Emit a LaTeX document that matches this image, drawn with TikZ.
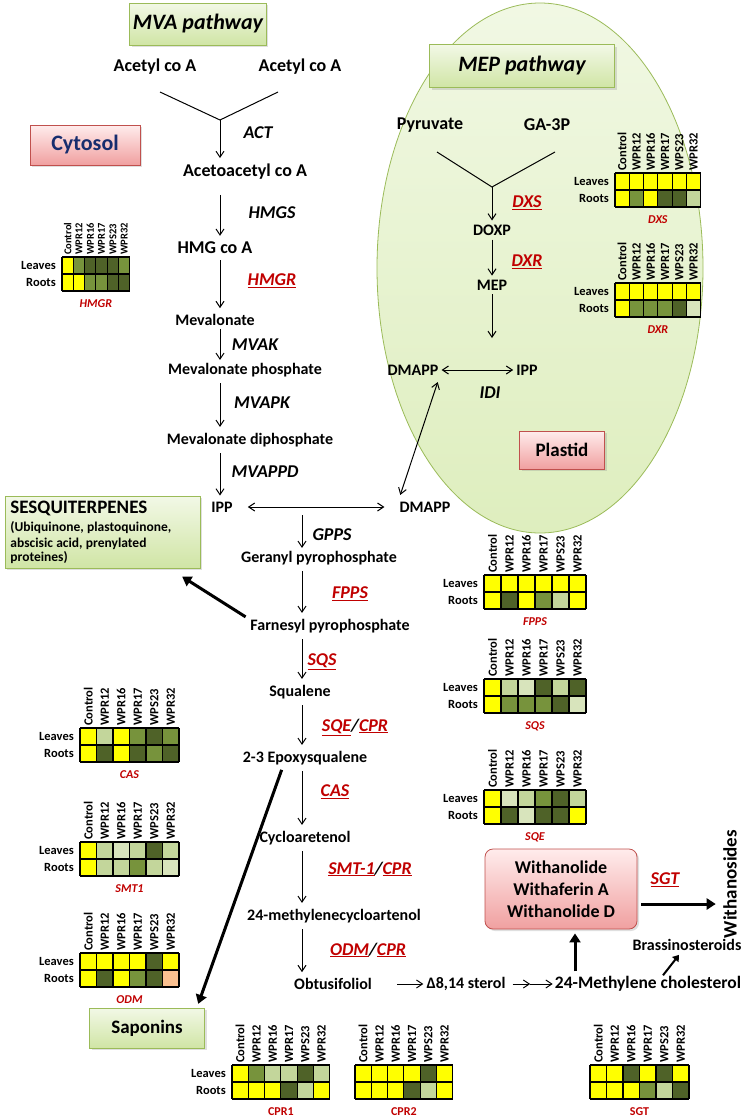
\documentclass[tikz,border=0pt]{standalone}
\usepackage{fontspec}
\setmainfont{Carlito}
\usetikzlibrary{arrows.meta,shadows,calc}

\definecolor{hY}{RGB}{255,255,0}
\definecolor{hD}{RGB}{79,98,40}
\definecolor{hM}{RGB}{119,147,60}
\definecolor{hL}{RGB}{195,214,155}
\definecolor{hV}{RGB}{216,228,188}
\definecolor{hO}{RGB}{250,192,144}
\definecolor{enzred}{RGB}{192,0,0}
\definecolor{boxgreen}{RGB}{155,187,89}
\definecolor{gtop}{RGB}{242,248,230}
\definecolor{gbot}{RGB}{208,229,165}
\definecolor{rtop}{RGB}{255,236,236}
\definecolor{rbot}{RGB}{240,160,160}
\definecolor{boxred}{RGB}{192,80,77}
\definecolor{ellA}{RGB}{241,248,228}
\definecolor{ellB}{RGB}{222,238,190}
\definecolor{cytblue}{RGB}{23,45,110}

% heat map: top-left, cell width, leaves, roots, label, name, row labels (1/0)
\newcommand\hmap[7]{%
  \begin{scope}[shift={(#1)}]
    \foreach \c [count=\i from 0] in {#3} \fill[\c] (\i*#2,0) rectangle ++(#2,17);
    \foreach \c [count=\i from 0] in {#4} \fill[\c] (\i*#2,17) rectangle ++(#2,17);
    \foreach \i in {0,...,6} \draw[hmline] (\i*#2,0) -- (\i*#2,34);
    \foreach \j in {0,17,34} \draw[hmline] (0,\j) -- (6*#2,\j);
    \foreach \t [count=\i from 0] in {Control,WPR12,WPR16,WPR17,WPS23,WPR32}
      \node[hdr] at ({(\i+0.5)*#2},-2) {\t};
    \node[hmlbl] (#6) at ({3*#2},47) {#5};
    \ifnum#7=1
      \node[rowlbl] at (-6,8.5) {Leaves};
      \node[rowlbl] at (-6,25.5) {Roots};
    \fi
  \end{scope}}

\begin{document}
\begin{tikzpicture}[x=1pt,y=-1pt,
  met/.style={font=\fontsize{16}{18}\selectfont\bfseries, inner sep=1pt},
  bigmet/.style={font=\fontsize{18}{20}\selectfont\bfseries, inner sep=1pt},
  enz/.style={font=\fontsize{18}{20}\selectfont\bfseries\itshape, inner sep=1pt},
  enzr/.style={enz, text=enzred},
  hdr/.style={font=\fontsize{12.5}{14}\selectfont\bfseries, rotate=90, anchor=west, inner sep=0pt},
  rowlbl/.style={font=\fontsize{12.5}{14}\selectfont\bfseries, anchor=east, inner sep=0pt},
  hmlbl/.style={font=\fontsize{12}{14}\selectfont\bfseries\itshape, text=enzred},
  hmline/.style={line width=1.1pt},
  greenbox/.style={draw=boxgreen, line width=0.8pt, top color=gtop, bottom color=gbot,
    drop shadow={opacity=0.25, shadow xshift=2pt, shadow yshift=-2pt}},
  redbox/.style={draw=boxred, line width=0.8pt, top color=rtop, bottom color=rbot,
    drop shadow={opacity=0.25, shadow xshift=2pt, shadow yshift=-2pt}},
  arr/.style={-{Straight Barb[length=6pt,width=8pt]}, line width=1pt, shorten <=5pt, shorten >=5pt},
  darr/.style={{Straight Barb[length=6pt,width=8pt]}-{Straight Barb[length=6pt,width=8pt]}, line width=1pt, shorten <=4pt, shorten >=4pt},
  thickarr/.style={-{Triangle[length=9pt,width=11pt]}, line width=3pt, shorten <=4pt, shorten >=4pt}]
\useasboundingbox (0,0) rectangle (750,1120);

% plastid
\path[draw=boxgreen, line width=0.8pt, top color=ellA, bottom color=ellB] (540,268) ellipse [x radius=163pt, y radius=265pt];

% titles and compartments
\node[greenbox, minimum width=135pt, minimum height=42pt, font=\fontsize{22}{24}\selectfont\bfseries\itshape] (mva) at (198,24) {MVA pathway};
\node[greenbox, minimum width=185pt, minimum height=43pt, font=\fontsize{22}{24}\selectfont\bfseries\itshape] (mep) at (522,66) {MEP pathway};
\node[redbox, minimum width=110pt, minimum height=40pt, text=cytblue, font=\fontsize{22}{24}\selectfont\bfseries] (cyt) at (85,145) {Cytosol};
\node[redbox, minimum width=85pt, minimum height=38pt, font=\fontsize{19}{21}\selectfont\bfseries] (pla) at (562,450) {Plastid};

% MVA pathway
\node[bigmet] (aca1) at (155,67) {Acetyl co A};
\node[bigmet] (aca2) at (300,67) {Acetyl co A};
\coordinate (yl) at (160,92);
\coordinate (yr) at (278,92);
\coordinate (yj) at (220,120);
\draw[line width=1pt] (yl) -- (yj) -- (yr);
\node[enz] (act) at (258,133) {ACT};
\node[bigmet] (acac) at (245,172) {Acetoacetyl co A};
\draw[arr, shorten <=0pt] (yj) -- (acac.north -| yj);
\node[enz] (hmgs) at (272,213) {HMGS};
\node[bigmet] (hmg) at (215,248) {HMG co A};
\draw[arr, shorten <=14pt] (acac.south -| yj) -- (hmg.north -| yj);
\node[enzr] (hmgr) at (272,281) {\underline{HMGR}};
\node[met] (mev) at (215,320) {Mevalonate};
\draw[arr] (hmg.south -| yj) -- (mev.north -| yj);
\node[enz] (mvak) at (255,345) {MVAK};
\node[met] (mevp) at (245,370) {Mevalonate phosphate};
\draw[arr, shorten <=2pt, shorten >=2pt] (mev.south -| yj) -- (mevp.north -| yj);
\node[enz] (mvapk) at (262,403) {MVAPK};
\node[met] (mevpp) at (250,440) {Mevalonate diphosphate};
\draw[arr] (mevp.south -| yj) -- (mevpp.north -| yj);
\node[enz] (mvappd) at (265,472) {MVAPPD};
\node[met] (ipp) at (222,507) {IPP};
\node[met] (dmapp) at (425,507) {DMAPP};
\draw[arr] (mevpp.south -| yj) -- (ipp.north -| yj);
\draw[darr, shorten <=14pt, shorten >=14pt] (ipp.east) -- (dmapp.west);

% MEP pathway
\node[bigmet] (pyr) at (430,125) {Pyruvate};
\node[bigmet] (ga3p) at (547,125) {GA-3P};
\coordinate (ml) at (437,152);
\coordinate (mr) at (555,152);
\coordinate (mj) at (492,187);
\draw[line width=1pt] (ml) -- (mj) -- (mr);
\node[enzr] (dxs) at (527,203) {\underline{DXS}};
\node[met] (doxp) at (492,230) {DOXP};
\draw[arr, shorten <=0pt, shorten >=3pt] (mj) -- (doxp.north);
\node[enzr] (dxr) at (527,262) {\underline{DXR}};
\node[met] (mepm) at (492,285) {MEP};
\draw[arr, shorten <=3pt, shorten >=3pt] (doxp.south) -- (mepm.north);
\coordinate (mepe) at (492,338);
\draw[arr, shorten <=3pt, shorten >=0pt] (mepm.south) -- (mepe);
\node[met] (dmapp2) at (413,370) {DMAPP};
\node[met] (ipp2) at (527,370) {IPP};
\draw[darr, shorten <=2pt, shorten >=2pt] (dmapp2.east) -- (ipp2.west);
\node[enz] (idi) at (490,393) {IDI};
\draw[darr, shorten <=6pt, shorten >=6pt] (dmapp.north west) -- (dmapp2.south east);

% trunk
\coordinate (br) at (302,507);
\node[enz] (gpps) at (332,535) {GPPS};
\node[met] (gpp) at (319,558) {Geranyl pyrophosphate};
\draw[arr, shorten <=8pt, shorten >=2pt] (br) -- (gpp.north -| br);
\node[enzr] (fpps) at (350,594) {\underline{FPPS}};
\node[met] (fpp) at (330,626) {Farnesyl pyrophosphate};
\draw[arr] (gpp.south -| br) -- (fpp.north -| br);
\node[enzr] (sqs) at (322,662) {\underline{SQS}};
\node[met] (squal) at (300,692) {Squalene};
\draw[arr] (fpp.south -| br) -- (squal.north -| br);
\node[enz] (sqe) at (355,727) {\textcolor{enzred}{\underline{SQE}}/\textcolor{enzred}{\underline{CPR}}};
\node[met] (epox) at (305,758) {2-3 Epoxysqualene};
\draw[arr] (squal.south -| br) -- (epox.north -| br);
\node[enzr] (cas) at (335,792) {\underline{CAS}};
\node[met] (cyclo) at (305,838) {Cycloaretenol};
\draw[arr] (epox.south -| br) -- (cyclo.north -| br);
\node[enz] (smt) at (370,869) {\textcolor{enzred}{\underline{SMT-1}}/\textcolor{enzred}{\underline{CPR}}};
\node[met] (mcyc) at (334,916) {24-methylenecycloartenol};
\draw[arr] (cyclo.south -| br) -- (mcyc.north -| br);
\node[enz] (odm) at (368,950) {\textcolor{enzred}{\underline{ODM}}/\textcolor{enzred}{\underline{CPR}}};
\node[met] (obt) at (333,984) {Obtusifoliol};
\draw[arr] (mcyc.south -| br) -- (obt.north -| br);
\node[met] (d814) at (466,984) {Δ8,14 sterol};
\node[met, font=\fontsize{17.5}{20}\selectfont\bfseries] (mchol) at (648,984) {24-Methylene cholesterol};
\draw[arr, shorten <=24pt, shorten >=2pt] (obt.east) -- (d814.west);
\coordinate (dmid) at ($(d814.east)!0.5!(mchol.west)$);
\draw[arr, shorten <=6pt, shorten >=0pt] (d814.east) -- (dmid);
\draw[arr, shorten <=0pt, shorten >=1pt] (dmid) -- (mchol.west);

% side products
\node[greenbox, text width=185pt, align=left, anchor=north west, inner sep=5pt] (sesq) at (5,496)
  {\fontsize{19}{21}\selectfont\bfseries SESQUITERPENES\\[2pt]
   \fontsize{13.5}{16}\selectfont\bfseries (Ubiquinone, plastoquinone,\\abscisic acid, prenylated\\proteines)};
\draw[thickarr, shorten <=2pt] ([xshift=-2pt]fpp.north west) -- ([xshift=-22pt, yshift=-6pt]sesq.south east);
\node[greenbox, minimum width=115pt, minimum height=40pt, font=\fontsize{19}{21}\selectfont\bfseries] (sap) at (147,1028) {Saponins};
\draw[thickarr] ([xshift=-22pt]epox.south) -- ([xshift=-8pt]sap.north east);
\node[redbox, rounded corners=8pt, minimum width=152pt, minimum height=80pt, align=center,
  font=\fontsize{18}{22}\selectfont\bfseries] (with) at (561,889) {Withanolide\\Withaferin A\\Withanolide D};
\draw[thickarr] ([xshift=14pt]with.south |- mchol.north) -- ([xshift=14pt]with.south);
\node[met] (brass) at (687,945) {Brassinosteroids};
\draw[-{Triangle[length=6pt,width=8pt]}, line width=2pt] ([xshift=15pt]mchol.north) -- ([xshift=-8pt, yshift=-3pt]brass.south);
\node[enzr] (sgt) at (665,880) {\underline{SGT}};
\node[rotate=90, font=\fontsize{19}{21}\selectfont\bfseries] (withs) at (730,884) {Withanosides};
\draw[thickarr] ([yshift=-15pt]with.east) -- ([yshift=-15pt]with.east -| withs.north);

% expression heat maps
\hmap{615,173}{14.3}{hY,hY,hY,hY,hY,hY}{hY,hM,hY,hD,hD,hL}{DXS}{hmdxs}{1}
\hmap{615,283}{14.3}{hY,hY,hY,hY,hY,hY}{hY,hM,hM,hM,hD,hV}{DXR}{hmdxr}{1}
\begin{scope}[hdr/.append style={font=\fontsize{10.5}{12}\selectfont\bfseries}]
\hmap{62,257}{11.3}{hY,hM,hD,hD,hD,hM}{hY,hY,hM,hM,hD,hD}{HMGR}{hmhmgr}{1}
\end{scope}
\hmap{484,575}{17}{hY,hY,hY,hY,hY,hY}{hY,hD,hY,hM,hL,hY}{FPPS}{hmfpps}{1}
\hmap{484,679}{17}{hY,hL,hV,hD,hL,hD}{hY,hM,hM,hM,hD,hV}{SQS}{hmsqs}{1}
\hmap{484,790}{17}{hY,hV,hL,hM,hD,hL}{hY,hD,hV,hD,hD,hY}{SQE}{hmsqe}{1}
\hmap{80,728}{16.5}{hY,hL,hY,hM,hD,hM}{hY,hD,hY,hD,hM,hD}{CAS}{hmcas}{1}
\hmap{80,842}{16.5}{hY,hL,hV,hL,hD,hL}{hY,hL,hL,hM,hL,hV}{SMT1}{hmsmt}{1}
\hmap{80,953}{16.5}{hY,hY,hY,hY,hD,hY}{hY,hD,hY,hM,hD,hO}{ODM}{hmodm}{1}
\hmap{232,1065}{16.3}{hY,hM,hL,hL,hD,hL}{hY,hY,hY,hD,hL,hY}{\upshape CPR1}{hmcpr1}{1}
\hmap{355,1065}{16.3}{hY,hY,hY,hY,hD,hY}{hY,hY,hY,hD,hL,hY}{\upshape CPR2}{hmcpr2}{0}
\hmap{590,1065}{16.5}{hY,hY,hD,hY,hD,hY}{hY,hY,hY,hM,hL,hD}{\upshape SGT}{hmsgt}{0}
\end{tikzpicture}
\end{document}
